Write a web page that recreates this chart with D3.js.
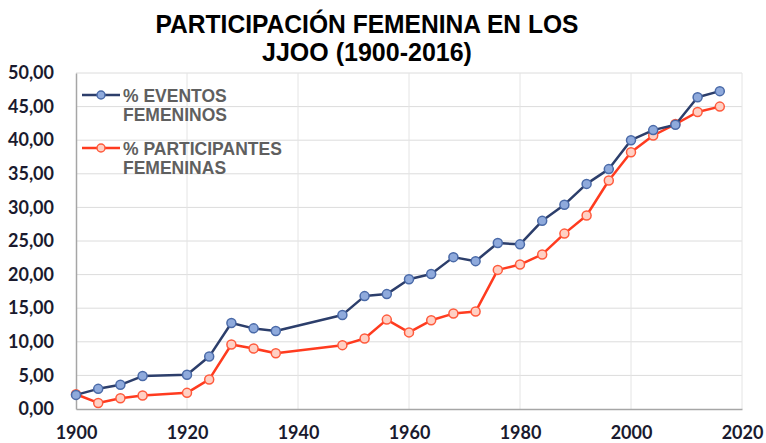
<!DOCTYPE html>
<html>
<head>
<meta charset="utf-8">
<script src="https://cdn.jsdelivr.net/npm/d3@7"></script>
<style>
  body { margin: 0; background: #fff; }
  svg { display: block; }
</style>
</head>
<body>
<div id="wrapper"></div>
<script>
// Datos
const years = [1900, 1904, 1908, 1912, 1920, 1924, 1928, 1932, 1936, 1948, 1952, 1956, 1960,
  1964, 1968, 1972, 1976, 1980, 1984, 1988, 1992, 1996, 2000, 2004, 2008, 2012, 2016];
const eventosFemeninos = [2.1, 3.0, 3.6, 4.9, 5.1, 7.8, 12.8, 12.0, 11.6, 14.0, 16.8, 17.1, 19.3,
  20.1, 22.6, 22.0, 24.7, 24.5, 28.0, 30.4, 33.5, 35.7, 40.0, 41.5, 42.3, 46.4, 47.3];
const participantesFemeninas = [2.2, 0.9, 1.6, 2.0, 2.4, 4.4, 9.6, 9.0, 8.3, 9.5, 10.5, 13.3, 11.4,
  13.2, 14.2, 14.5, 20.7, 21.5, 23.0, 26.1, 28.8, 34.0, 38.2, 40.7, 42.4, 44.2, 45.0];
const xTicks = [1900, 1920, 1940, 1960, 1980, 2000, 2020];
const yTicks = [0, 5, 10, 15, 20, 25, 30, 35, 40, 45, 50];

const series = [
  { name: ["% EVENTOS", "FEMENINOS"], values: eventosFemeninos, line: "#2c3e6b", fill: "#8faadc", stroke: "#4a6aa8" },
  { name: ["% PARTICIPANTES", "FEMENINAS"], values: participantesFemeninas, line: "#ff3b1f", fill: "#ffd0c4", stroke: "#ff5a3c" },
];

const width = 766;
const height = 443;
const margin = { top: 73, right: 24, bottom: 34, left: 76 };
const boundedWidth = width - margin.left - margin.right;
const boundedHeight = height - margin.top - margin.bottom;

const svg = d3.select("#wrapper").append("svg")
  .attr("width", width)
  .attr("height", height);

// Titulo
const title = svg.append("g")
  .style("font-family", "'Liberation Sans', Arial, sans-serif")
  .style("font-weight", "bold")
  .style("font-size", "25px")
  .attr("fill", "#000")
  .attr("text-anchor", "middle");
title.append("text").attr("x", 367).attr("y", 33)
  .attr("textLength", 423).attr("lengthAdjust", "spacingAndGlyphs")
  .text("PARTICIPACIÓN  FEMENINA EN LOS");
title.append("text").attr("x", 367).attr("y", 61).text("JJOO (1900-2016)");

const bounds = svg.append("g")
  .attr("transform", `translate(${margin.left},${margin.top})`);

const xScale = d3.scaleLinear().domain([1900, 2020]).range([0, boundedWidth]);
const yScale = d3.scaleLinear().domain([0, 50]).range([boundedHeight, 0]);

// Rejilla
bounds.append("g").selectAll("line.h")
  .data(yTicks.slice(1))
  .join("line")
  .attr("x1", 0).attr("x2", boundedWidth)
  .attr("y1", d => yScale(d)).attr("y2", d => yScale(d))
  .attr("stroke", "#dcdcdc").attr("stroke-width", 1);

bounds.append("g").selectAll("line.v")
  .data(xTicks.slice(1))
  .join("line")
  .attr("x1", d => xScale(d)).attr("x2", d => xScale(d))
  .attr("y1", 0).attr("y2", boundedHeight)
  .attr("stroke", "#e4e4e4").attr("stroke-width", 1);

// Ejes
const fmt = d => d3.format(".2f")(d).replace(".", ",");
const yAxis = bounds.append("g")
  .call(d3.axisLeft(yScale).tickValues(yTicks).tickFormat(fmt).tickSize(0).tickPadding(22));
const xAxis = bounds.append("g")
  .attr("transform", `translate(0,${boundedHeight})`)
  .call(d3.axisBottom(xScale).tickValues(xTicks).tickFormat(d3.format("d")).tickSize(0).tickPadding(17));

[yAxis, xAxis].forEach(ax => {
  ax.select(".domain").attr("stroke", "#a6a6a6").attr("stroke-width", 1.5);
  ax.selectAll("text")
    .style("font-family", "Lato, 'Open Sans', sans-serif")
    .style("font-weight", "bold")
    .style("font-size", "18px")
    .attr("fill", "#1a1a2e");
});

// Lineas
const lineGen = d3.line()
  .x((d, i) => xScale(years[i]))
  .y(d => yScale(d));

series.slice().reverse().forEach(s => {
  bounds.append("path")
    .datum(s.values)
    .attr("d", lineGen)
    .attr("fill", "none")
    .attr("stroke", s.line)
    .attr("stroke-width", 2.5)
    .attr("stroke-linejoin", "round");
  bounds.append("g").selectAll("circle")
    .data(s.values)
    .join("circle")
    .attr("cx", (d, i) => xScale(years[i]))
    .attr("cy", d => yScale(d))
    .attr("r", 4.5)
    .attr("fill", s.fill)
    .attr("stroke", s.stroke)
    .attr("stroke-width", 1.5);
});

// Leyenda
const legend = svg.append("g");
series.forEach((s, i) => {
  const y0 = 95 + i * 53;
  const g = legend.append("g").attr("transform", `translate(82,${y0})`);
  g.append("line").attr("x1", 0).attr("x2", 38).attr("y1", 0).attr("y2", 0)
    .attr("stroke", s.line).attr("stroke-width", 2.5);
  g.append("circle").attr("cx", 19).attr("cy", 0).attr("r", 4)
    .attr("fill", s.fill).attr("stroke", s.stroke).attr("stroke-width", 1.5);
  g.selectAll("text")
    .data(s.name)
    .join("text")
    .attr("x", 41)
    .attr("y", (d, j) => 6.5 + j * 19.5)
    .text(d => d)
    .style("font-family", "'Liberation Sans', Arial, sans-serif")
    .style("font-weight", "bold")
    .style("font-size", "17.5px")
    .attr("fill", "#5f5f5f");
});
</script>
</body>
</html>
